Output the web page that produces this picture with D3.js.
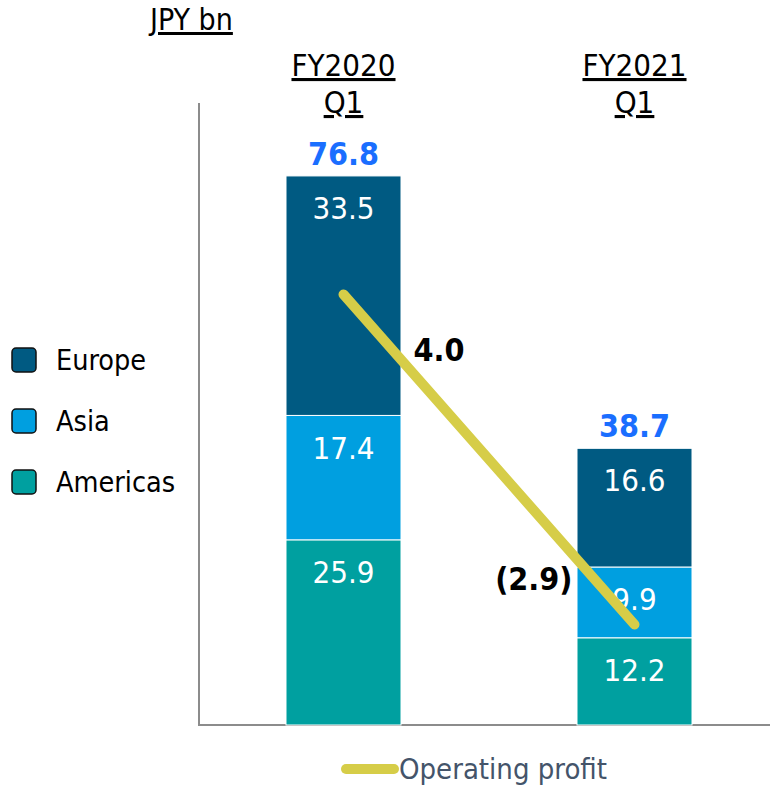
<!DOCTYPE html>
<html>
<head>
<meta charset="utf-8">
<script src="https://cdn.jsdelivr.net/npm/d3@7"></script>
<style>
  html, body { margin: 0; padding: 0; background: #fff; }
  svg { display: block; }
  text { font-family: "DejaVu Sans Condensed", "DejaVu Sans", sans-serif; }
</style>
</head>
<body>
<svg id="chart" width="770" height="785"></svg>
<script>
// ---- data ----
const periods = ["FY2020 Q1", "FY2021 Q1"];
const periodLines = [["FY2020", "Q1"], ["FY2021", "Q1"]];
const regions = ["Americas", "Asia", "Europe"];
const americas = [25.9, 12.2];
const asia = [17.4, 9.9];
const europe = [33.5, 16.6];
const totals = [76.8, 38.7];
const operatingProfit = [4.0, -2.9];
const opLabels = ["4.0", "(2.9)"];
const legendOrder = ["Europe", "Asia", "Americas"];
const unitLabel = "JPY bn";
const lineLegend = "Operating profit";

const colors = { Europe: "#005a82", Asia: "#009fe0", Americas: "#00a0a0" };

const svg = d3.select("#chart");

const x = d3.scaleBand().domain(periods).range([198.7, 779.3]).paddingInner(0.6048).paddingOuter(0.3);
const y = d3.scaleLinear().domain([0, 87]).range([725, 103]);
const y2 = d3.scaleLinear().domain([-5, 8]).range([725, 103]);

const seriesVals = { Americas: americas, Asia: asia, Europe: europe };
const table = periods.map((p, i) => {
  const o = { period: p };
  regions.forEach(r => o[r] = seriesVals[r][i]);
  return o;
});
const stacked = d3.stack().keys(regions)(table);

// axes lines
svg.append("line").attr("x1", 199).attr("x2", 199).attr("y1", y.range()[1]).attr("y2", y(0))
  .attr("stroke", "#8c8c8c").attr("stroke-width", 2);
svg.append("line").attr("x1", 198).attr("x2", 770).attr("y1", y(0)).attr("y2", y(0))
  .attr("stroke", "#8c8c8c").attr("stroke-width", 2);

// bars
const layers = svg.append("g").selectAll("g").data(stacked).join("g")
  .attr("fill", d => colors[d.key]);
layers.selectAll("rect").data(d => d).join("rect")
  .attr("x", d => x(d.data.period))
  .attr("width", x.bandwidth())
  .attr("y", d => y(d[1]))
  .attr("height", d => y(d[0]) - y(d[1]))
  .attr("stroke", "#ffffff").attr("stroke-width", 1);

// segment labels
stacked.forEach(layer => {
  layer.forEach(d => {
    const top = y(d[1]), bot = y(d[0]);
    const cy = Math.min((top + bot) / 2, top + 32);
    svg.append("text")
      .attr("x", x(d.data.period) + x.bandwidth() / 2)
      .attr("y", cy)
      .attr("dy", "0.36em")
      .attr("text-anchor", "middle")
      .attr("fill", "#ffffff")
      .attr("font-size", 31)
      .text((d.data[layer.key]).toFixed(1));
  });
});

// totals
periods.forEach((p, i) => {
  svg.append("text")
    .attr("x", x(p) + x.bandwidth() / 2)
    .attr("y", y(totals[i]) - 11)
    .attr("text-anchor", "middle")
    .attr("fill", "#1a6eff")
    .attr("font-weight", "bold")
    .attr("font-size", 32)
    .text(totals[i].toFixed(1));
});

// period headers (underlined)
periods.forEach((p, i) => {
  periodLines[i].forEach((ln, j) => {
    svg.append("text")
      .attr("x", x(p) + x.bandwidth() / 2)
      .attr("y", 76 + j * 37)
      .attr("text-anchor", "middle")
      .attr("fill", "#000")
      .attr("font-size", 31)
      .attr("text-decoration", "underline")
      .text(ln);
  });
});

// unit label
svg.append("text").attr("x", 150).attr("y", 30).attr("font-size", 30)
  .attr("text-decoration", "underline").attr("fill", "#000").text(unitLabel);

// operating profit line
const line = d3.line().x((d, i) => x(periods[i]) + x.bandwidth() / 2).y(d => y2(d));
svg.append("path").datum(operatingProfit).attr("d", line)
  .attr("fill", "none").attr("stroke", "#d6cd48").attr("stroke-width", 10)
  .attr("stroke-linecap", "round");

svg.append("text").attr("x", x(periods[0]) + x.bandwidth() / 2 + 70)
  .attr("y", y2(operatingProfit[0]) + 67)
  .attr("font-weight", "bold").attr("font-size", 32).attr("fill", "#000")
  .text(opLabels[0]);
svg.append("text").attr("x", x(periods[1]) + x.bandwidth() / 2 - 62)
  .attr("y", y2(operatingProfit[1]) - 35)
  .attr("text-anchor", "end")
  .attr("font-weight", "bold").attr("font-size", 32).attr("fill", "#000")
  .text(opLabels[1]);

// region legend
legendOrder.forEach((r, i) => {
  const cy = 360 + i * 61;
  svg.append("rect").attr("x", 12).attr("y", cy - 12).attr("width", 24).attr("height", 24)
    .attr("rx", 4).attr("fill", colors[r]).attr("stroke", "#111").attr("stroke-width", 1.5);
  svg.append("text").attr("x", 56).attr("y", cy).attr("dy", "0.36em")
    .attr("font-size", 28.5).attr("fill", "#000").text(r);
});

// line legend
svg.append("line").attr("x1", 346).attr("x2", 394).attr("y1", 769).attr("y2", 769)
  .attr("stroke", "#d6cd48").attr("stroke-width", 10).attr("stroke-linecap", "round");
svg.append("text").attr("x", 399).attr("y", 779).attr("font-size", 29)
  .attr("fill", "#44546a").text(lineLegend);
</script>
</body>
</html>
